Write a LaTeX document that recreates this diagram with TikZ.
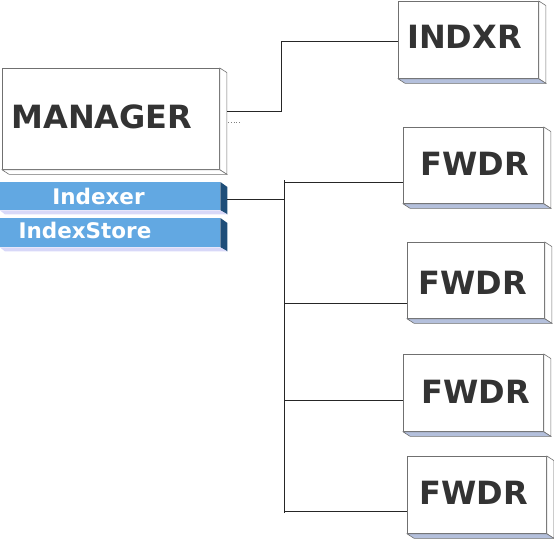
\documentclass[tikz,border=0pt]{standalone}
\usepackage{fontspec}
\setsansfont{DejaVu Sans}
\usetikzlibrary{calc}

\definecolor{textgrey}{HTML}{333333}
\definecolor{edgegrey}{HTML}{707070}
\definecolor{shade}{HTML}{B4C0DC}
\definecolor{barblue}{HTML}{62A8E2}
\definecolor{bardark}{HTML}{1F4E79}
\definecolor{barlav}{HTML}{D8D8F8}

\tikzset{
  unit/.style={draw=edgegrey, line width=0.8pt, fill=white, anchor=north west, inner sep=0pt},
  face/.style={draw=edgegrey, line width=0.6pt},
  unittext/.style={font=\sffamily\bfseries\fontsize{32}{32}\selectfont, text=textgrey, anchor=base, inner sep=0pt},
  bar/.style={fill=barblue, anchor=north west, inner sep=0pt, minimum width=220pt},
  bartext/.style={font=\sffamily\bfseries\fontsize{21.5}{21.5}\selectfont, text=white, anchor=base, inner sep=0pt},
  link/.style={line width=0.9pt, black!85},
}

\begin{document}
\begin{tikzpicture}[x=1pt, y=-1pt]
\useasboundingbox (0,0) rectangle (554,538);

% front faces
\node [unit, minimum width=217pt, minimum height=101pt] (mgr) at (2, 68) {};
\node [unit, minimum width=140pt, minimum height=77pt] (indxr) at (398, 1) {};
\node [unit, minimum width=140pt, minimum height=76pt] (fwdr1) at (403, 127) {};
\node [unit, minimum width=137pt, minimum height=76pt] (fwdr2) at (407, 242) {};
\node [unit, minimum width=140pt, minimum height=77pt] (fwdr3) at (403, 354) {};
\node [unit, minimum width=139pt, minimum height=77pt] (fwdr4) at (407, 456) {};

% side and bottom faces
\foreach \n/\c in {mgr/white, indxr/shade, fwdr1/shade, fwdr2/shade, fwdr3/shade, fwdr4/shade} {
  \filldraw [face, fill=white] (\n.north east) -- ++(7, 4.5) -- ([shift={(7, 4.5)}]\n.south east) -- (\n.south east) -- cycle;
  \filldraw [face, fill=\c] (\n.south west) -- (\n.south east) -- ([shift={(7, 4.5)}]\n.south east) -- ([shift={(7, 4.5)}]\n.south west) -- cycle;
}

\node [bar, minimum height=28pt] (idx) at (0, 182) {};
\node [bar, minimum height=29pt] (store) at (0, 218) {};
\foreach \n in {idx, store} {
  \fill [bardark] (\n.north east) -- ++(7, 5) -- ([shift={(7, 4)}]\n.south east) -- (\n.south east) -- cycle;
  \fill [barlav] (\n.south west) -- (\n.south east) -- ([shift={(7, 4)}]\n.south east) -- ([shift={(5, 4)}]\n.south west) -- cycle;
}

% labels
\node [unittext] (mgr-t) at (102, 128) {MANAGER};
\node [unittext] (indxr-t) at (464.5, 48) {INDXR};
\node [unittext] (fwdr1-t) at (475, 175) {FWDR};
\node [unittext] (fwdr2-t) at (472.5, 294) {FWDR};
\node [unittext] (fwdr3-t) at (476, 403) {FWDR};
\node [unittext] (fwdr4-t) at (474, 504) {FWDR};
\node [bartext] (idx-t) at (98.5, 204) {Indexer};
\node [bartext] (store-t) at (85, 238) {IndexStore};

% connectors
\coordinate (mgr-out) at (227, 111);
\coordinate (jog) at (281, 41);
\draw [link] (mgr-out) -| (jog) -- (jog -| indxr.west);
\coordinate (mgr-dot) at (228, 122);
\draw [gray, dotted, line width=0.8pt] (mgr-dot) -- ++(12, 0);

\coordinate (bus-top) at (284, 180);
\coordinate (bus-bot) at (284, 513);
\coordinate (idx-out) at (227, 199);
\draw [link] (idx-out) -- (idx-out -| bus-top);
\draw [link] (bus-top) -- (bus-bot);
\coordinate (b1) at (284, 182);
\coordinate (b2) at (284, 303);
\coordinate (b3) at (284, 400);
\coordinate (b4) at (284, 511);
\foreach \i in {1, 2, 3, 4}
  \draw [link] (b\i) -- (b\i -| fwdr\i.west);
\end{tikzpicture}
\end{document}
